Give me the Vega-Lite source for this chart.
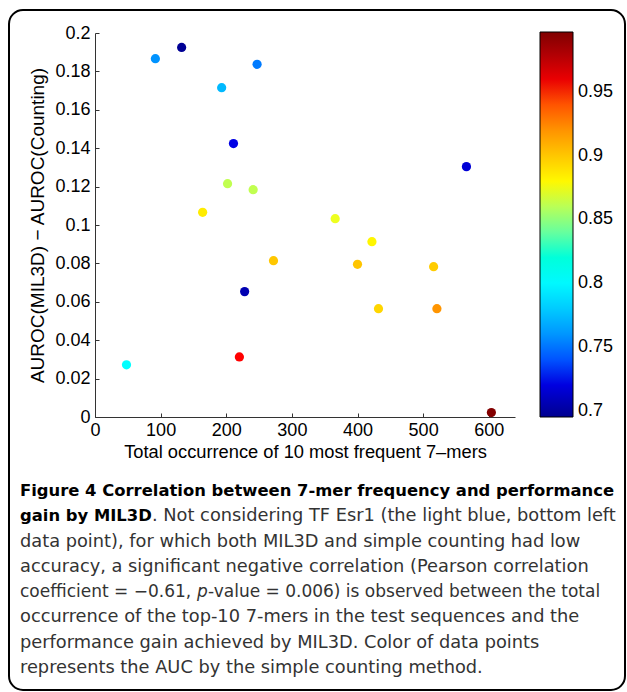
{
  "$schema": "https://vega.github.io/schema/vega-lite/v6.json",
  "width": 616,
  "height": 680,
  "autosize": {"type": "none"},
  "padding": {"left": 9, "top": 10, "right": 2, "bottom": 2},
  "background": "white",
  "config": {
    "view": {"stroke": "#000", "strokeWidth": 2, "cornerRadius": 14, "fill": "white"},
    "font": "Liberation Sans"
  },
  "datasets": {
    "points": [
      {"occurrence": 92, "gain": 0.1866, "auc": 0.759},
      {"occurrence": 132, "gain": 0.1925, "auc": 0.697},
      {"occurrence": 247, "gain": 0.1837, "auc": 0.751},
      {"occurrence": 193, "gain": 0.1715, "auc": 0.773},
      {"occurrence": 211, "gain": 0.1424, "auc": 0.721},
      {"occurrence": 202, "gain": 0.1215, "auc": 0.862},
      {"occurrence": 241, "gain": 0.1184, "auc": 0.862},
      {"occurrence": 164, "gain": 0.1066, "auc": 0.885},
      {"occurrence": 366, "gain": 0.1033, "auc": 0.873},
      {"occurrence": 566, "gain": 0.1304, "auc": 0.717},
      {"occurrence": 422, "gain": 0.0913, "auc": 0.881},
      {"occurrence": 272, "gain": 0.0814, "auc": 0.9},
      {"occurrence": 400, "gain": 0.0795, "auc": 0.901},
      {"occurrence": 516, "gain": 0.0783, "auc": 0.898},
      {"occurrence": 228, "gain": 0.0653, "auc": 0.706},
      {"occurrence": 432, "gain": 0.0564, "auc": 0.894},
      {"occurrence": 521, "gain": 0.0564, "auc": 0.919},
      {"occurrence": 220, "gain": 0.0313, "auc": 0.953},
      {"occurrence": 604, "gain": 0.0023, "auc": 0.996},
      {"occurrence": 48, "gain": 0.0272, "auc": 0.803}
    ],
    "caption": [
      {"line": 1, "seg": "bold", "text": "Figure 4 Correlation between 7-mer frequency and performance"},
      {"line": 2, "seg": "bold", "text": "gain by MIL3D"},
      {"line": 2, "seg": "afterbold", "text": ". Not considering TF Esr1 (the light blue, bottom left"},
      {"line": 3, "seg": "reg", "text": "data point), for which both MIL3D and simple counting had low"},
      {"line": 4, "seg": "reg", "text": "accuracy, a significant negative correlation (Pearson correlation"},
      {"line": 5, "seg": "beforeitalic", "text": "coefficient = \u22120.61,"},
      {"line": 5, "seg": "italic", "text": "p"},
      {"line": 5, "seg": "afteritalic", "text": "-value = 0.006) is observed between the total"},
      {"line": 6, "seg": "reg", "text": "occurrence of the top-10 7-mers in the test sequences and the"},
      {"line": 7, "seg": "reg", "text": "performance gain achieved by MIL3D. Color of data points"},
      {"line": 8, "seg": "reg", "text": "represents the AUC by the simple counting method."}
    ]
  },
  "layer": [
    {
      "data": {"name": "points"},
      "mark": {"type": "circle", "size": 85, "opacity": 1},
      "encoding": {
        "x": {
          "field": "occurrence", "type": "quantitative",
          "scale": {"domain": [0, 640], "range": [86, 506], "nice": false, "zero": false},
          "axis": {
            "orient": "bottom", "offset": -273, "values": [0, 100, 200, 300, 400, 500, 600],
            "tickSize": -4, "labelPadding": 8, "labelFontSize": 18, "labelColor": "#000",
            "domainColor": "#333", "tickColor": "#333", "grid": false, "labelFlush": false,
            "title": "Total occurrence of 10 most frequent 7\u2013mers", "titleFontSize": 18.3,
            "titleFontWeight": "normal", "titleColor": "#000", "titlePadding": 4
          }
        },
        "y": {
          "field": "gain", "type": "quantitative",
          "scale": {"domain": [0, 0.2], "range": [407, 23], "nice": false, "zero": false},
          "axis": {
            "orient": "left", "offset": -86, "values": [0, 0.02, 0.04, 0.06, 0.08, 0.1, 0.12, 0.14, 0.16, 0.18, 0.2],
            "format": "~g", "tickSize": -4, "labelPadding": 9, "labelFontSize": 18, "labelColor": "#000",
            "domainColor": "#333", "tickColor": "#333", "grid": false, "labelFlush": false,
            "title": "AUROC(MIL3D) \u2212 AUROC(Counting)", "titleFontSize": 19,
            "titleFontWeight": "normal", "titleColor": "#000", "titlePadding": 7
          }
        },
        "color": {
          "field": "auc", "type": "quantitative",
          "scale": {
            "domain": [0.695, 0.729, 0.803, 0.877, 0.953, 0.997],
            "range": ["#00008f", "#0000ff", "#00ffff", "#ffff00", "#ff0000", "#800000"]
          },
          "legend": {
            "orient": "none", "legendX": 531, "legendY": 22, "direction": "vertical",
            "gradientLength": 385, "gradientThickness": 33, "title": null,
            "values": [0.7, 0.75, 0.8, 0.85, 0.9, 0.95], "format": "~g",
            "labelFontSize": 18, "labelColor": "#000", "labelOffset": 5,
            "gradientStrokeColor": "#000", "gradientStrokeWidth": 1
          }
        }
      }
    },
    {
      "data": {"name": "caption"},
      "layer": [
        {
          "transform": [{"filter": "datum.seg === 'bold'"}],
          "mark": {"type": "text", "align": "left", "baseline": "middle", "font": "DejaVu Sans", "fontSize": 16.4, "fontWeight": "bold", "color": "#000"},
          "encoding": {
            "x": {"value": 11},
            "y": {"field": "line", "type": "quantitative", "scale": {"domain": [1, 8], "range": [481, 658], "zero": false, "nice": false}, "axis": null},
            "text": {"field": "text"}
          }
        },
        {
          "transform": [{"filter": "datum.seg === 'reg'"}],
          "mark": {"type": "text", "align": "left", "baseline": "middle", "font": "DejaVu Sans", "fontSize": 17.8, "color": "#333"},
          "encoding": {
            "x": {"value": 11},
            "y": {"field": "line", "type": "quantitative", "scale": {"domain": [1, 8], "range": [481, 658], "zero": false, "nice": false}, "axis": null},
            "text": {"field": "text"}
          }
        },
        {
          "transform": [{"filter": "datum.seg === 'afterbold'"}],
          "mark": {"type": "text", "align": "left", "baseline": "middle", "font": "DejaVu Sans", "fontSize": 17.8, "color": "#333", "dx": 132},
          "encoding": {
            "x": {"value": 11},
            "y": {"field": "line", "type": "quantitative", "scale": {"domain": [1, 8], "range": [481, 658], "zero": false, "nice": false}, "axis": null},
            "text": {"field": "text"}
          }
        },
        {
          "transform": [{"filter": "datum.seg === 'beforeitalic'"}],
          "mark": {"type": "text", "align": "left", "baseline": "middle", "font": "DejaVu Sans", "fontSize": 17, "color": "#333"},
          "encoding": {
            "x": {"value": 11},
            "y": {"field": "line", "type": "quantitative", "scale": {"domain": [1, 8], "range": [481, 658], "zero": false, "nice": false}, "axis": null},
            "text": {"field": "text"}
          }
        },
        {
          "transform": [{"filter": "datum.seg === 'italic'"}],
          "mark": {"type": "text", "align": "left", "baseline": "middle", "font": "DejaVu Sans", "fontSize": 17, "fontStyle": "italic", "color": "#333", "dx": 177},
          "encoding": {
            "x": {"value": 11},
            "y": {"field": "line", "type": "quantitative", "scale": {"domain": [1, 8], "range": [481, 658], "zero": false, "nice": false}, "axis": null},
            "text": {"field": "text"}
          }
        },
        {
          "transform": [{"filter": "datum.seg === 'afteritalic'"}],
          "mark": {"type": "text", "align": "left", "baseline": "middle", "font": "DejaVu Sans", "fontSize": 17, "color": "#333", "dx": 188},
          "encoding": {
            "x": {"value": 11},
            "y": {"field": "line", "type": "quantitative", "scale": {"domain": [1, 8], "range": [481, 658], "zero": false, "nice": false}, "axis": null},
            "text": {"field": "text"}
          }
        }
      ]
    }
  ],
  "resolve": {"scale": {"y": "independent"}}
}
